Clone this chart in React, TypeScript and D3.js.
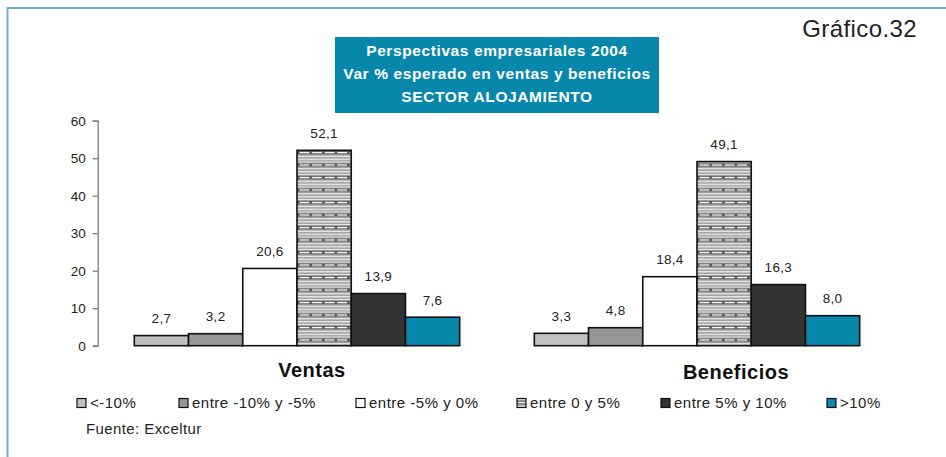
import React, { useEffect, useRef } from "react";
import * as d3 from "d3";

// Chart data
const categories = ["Ventas", "Beneficios"];
const seriesNames = [
  "<-10%",
  "entre -10% y -5%",
  "entre -5% y 0%",
  "entre 0 y 5%",
  "entre 5% y 10%",
  ">10%",
];
const ventasValues = [2.7, 3.2, 20.6, 52.1, 13.9, 7.6];
const beneficiosValues = [3.3, 4.8, 18.4, 49.1, 16.3, 8.0];
const yTicks = [0, 10, 20, 30, 40, 50, 60];
const titleLines = [
  "Perspectivas empresariales 2004",
  "Var % esperado en ventas y beneficios",
  "SECTOR ALOJAMIENTO",
];
const chartNumber = "Gráfico.32";
const sourceNote = "Fuente: Exceltur";

// Layout
const W = 946;
const H = 457;
const FONT = "'Liberation Sans', Arial, Helvetica, sans-serif";
const TEAL = "#0787ab";
const fills = ["#c0c0c0", "#969696", "#ffffff", "url(#stripes)", "#333333", TEAL];
const legendX = [77, 179, 356, 517, 661, 827];
const catLabelDx = [15, 39];
const catLabelY = [377, 379];

const locale = d3.formatLocale({
  decimal: ",",
  thousands: ".",
  grouping: [3],
  currency: ["", "€"],
});
const fmt = locale.format(".1f");

export default function App() {
  const axisRef = useRef<SVGGElement>(null);

  const y = d3.scaleLinear().domain([0, 60]).range([345.7, 120.7]);
  const x0 = d3.scaleBand<string>().domain(categories).range([97, 897]).padding(0);
  const x1 = d3
    .scaleBand<string>()
    .domain(seriesNames)
    .range([37.3, x0.bandwidth() - 37.3])
    .padding(0);

  const table = categories.map((c, i) => ({
    category: c,
    values: i === 0 ? ventasValues : beneficiosValues,
  }));

  useEffect(() => {
    if (!axisRef.current) return;
    const g = d3.select(axisRef.current);
    g.selectAll("*").remove();
    g.call(
      d3
        .axisLeft(y)
        .tickValues(yTicks)
        .tickSize(5)
        .tickPadding(7)
        .tickFormat((d) => String(d))
    );
    g.select(".domain").attr("stroke", "#7a7a7a").attr("stroke-width", 1.3);
    g.selectAll(".tick line").attr("stroke", "#7a7a7a").attr("stroke-width", 1.3);
    g.selectAll(".tick text")
      .attr("fill", "#222")
      .style("font-family", FONT)
      .style("font-size", "13.5px");
  }, []);

  return (
    <div style={{ position: "fixed", left: 0, top: 0 }}>
      <svg width={W} height={H} style={{ display: "block", background: "#fff" }}>
        <defs>
          <pattern
            id="stripes"
            patternUnits="userSpaceOnUse"
            width={12.6}
            height={12.5}
            x={0}
            y={1}
          >
            <rect width={12.6} height={12.5} fill="#959595" />
            <rect y={0} width={12.6} height={3} fill="#555" />
            <rect x={0.8} y={0.8} width={10} height={1.4} fill="#fff" />
            <rect y={4.6} width={12.6} height={1.4} fill="#f4f4f4" />
            <rect y={7.6} width={12.6} height={1.4} fill="#f4f4f4" />
            <rect y={10.4} width={12.6} height={1.2} fill="#e8e8e8" />
          </pattern>
        </defs>

        {/* frame */}
        <line x1={7.5} y1={8} x2={W + 5} y2={8} stroke="#6aaed2" strokeWidth={2} />
        <line x1={7.5} y1={7} x2={7.5} y2={H + 5} stroke="#6aaed2" strokeWidth={2} />

        <text
          x={917}
          y={37}
          textAnchor="end"
          fontFamily={FONT}
          fontSize={24}
          letterSpacing={0.4}
          fill="#222"
        >
          {chartNumber}
        </text>

        {/* title box */}
        <rect x={335} y={37} width={324} height={76} fill={TEAL} />
        {titleLines.map((t, i) => (
          <text
            key={t}
            x={497}
            y={56 + i * 23}
            textAnchor="middle"
            fontFamily={FONT}
            fontWeight="bold"
            fontSize={15.5}
            letterSpacing={0.6}
            fill="#fff"
          >
            {t}
          </text>
        ))}

        <g ref={axisRef} transform="translate(97.7,0)" />

        {table.map((row, ci) => (
          <g key={row.category} transform={`translate(${x0(row.category)},0)`}>
            {row.values.map((v, si) => {
              const bx = x1(seriesNames[si]) as number;
              const bw = x1.bandwidth();
              return (
                <g key={seriesNames[si]}>
                  <rect
                    x={bx}
                    y={y(v)}
                    width={bw}
                    height={y(0) - y(v)}
                    fill={fills[si]}
                    stroke="#111"
                    strokeWidth={1.6}
                  />
                  <text
                    x={bx + bw / 2}
                    y={y(v) - 12.5}
                    textAnchor="middle"
                    fontFamily={FONT}
                    fontSize={13.5}
                    letterSpacing={0.3}
                    fill="#222"
                  >
                    {fmt(v)}
                  </text>
                </g>
              );
            })}
            <text
              x={x0.bandwidth() / 2 + catLabelDx[ci]}
              y={catLabelY[ci]}
              textAnchor="middle"
              fontFamily={FONT}
              fontWeight="bold"
              fontSize={20}
              letterSpacing={0.5}
              fill="#111"
            >
              {row.category}
            </text>
          </g>
        ))}

        {/* legend */}
        {seriesNames.map((s, i) => (
          <g key={s}>
            <rect
              x={legendX[i]}
              y={398.5}
              width={9}
              height={9}
              fill={fills[i]}
              stroke="#111"
              strokeWidth={1.2}
            />
            <text
              x={legendX[i] + 13}
              y={407.5}
              fontFamily={FONT}
              fontSize={15}
              letterSpacing={0.5}
              fill="#222"
            >
              {s}
            </text>
          </g>
        ))}

        <text x={86} y={434} fontFamily={FONT} fontSize={15} letterSpacing={0.4} fill="#222">
          {sourceNote}
        </text>
      </svg>
    </div>
  );
}
